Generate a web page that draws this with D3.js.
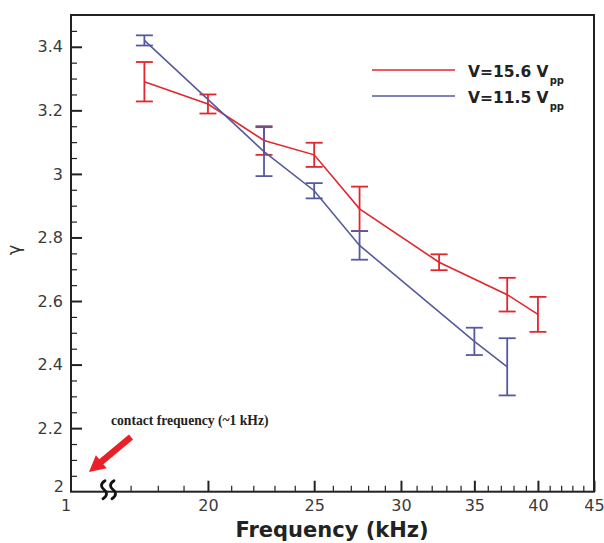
<!DOCTYPE html>
<html>
<head>
<meta charset="utf-8">
<script src="https://cdn.jsdelivr.net/npm/d3@7"></script>
<style>
  body { margin: 0; background: #fff; }
  svg { display: block; }
</style>
</head>
<body>
<svg id="chart" width="604" height="543"></svg>
<script>
// Nonlinearity exponent gamma vs. drive frequency, two drive amplitudes
const freqHigh = [17.5, 20, 22.5, 25, 27.5, 32.5, 37.5, 40];
const gammaHigh = [3.29, 3.22, 3.105, 3.06, 2.89, 2.722, 2.62, 2.558];
const errHigh = [0.062, 0.03, 0.045, 0.038, 0.07, 0.025, 0.053, 0.055];

const freqLow = [17.5, 22.5, 25, 27.5, 35, 37.5];
const gammaLow = [3.42, 3.07, 2.947, 2.775, 2.473, 2.393];
const errLow = [0.016, 0.077, 0.024, 0.045, 0.043, 0.09];

const seriesLabels = ["V=15.6 V", "V=11.5 V"];
const seriesSub = ["pp", "pp"];
const seriesColors = ["#e3262d", "#555a9f"];

const xTicks = [20, 25, 30, 35, 40, 45];
const xMinorTicks = [17, 18, 19, 21, 22, 23, 24, 26, 27, 28, 29, 31, 32, 33, 34, 36, 37, 38, 39, 41, 42, 43, 44];
const yTicks = [2.2, 2.4, 2.6, 2.8, 3.0, 3.2, 3.4];
const yMinorTicks = [2.05, 2.1, 2.15, 2.25, 2.3, 2.35, 2.45, 2.5, 2.55, 2.65, 2.7, 2.75,
                     2.85, 2.9, 2.95, 3.05, 3.1, 3.15, 3.25, 3.3, 3.35, 3.45];
const axisStartLabelX = "1";
const axisStartLabelY = "2";
const annotationText = "contact frequency (~1 kHz)";

const svg = d3.select("#chart");
const plotLeft = 71, plotRight = 594, plotTop = 15, plotBottom = 491.7;

const x = d3.scaleLog().domain([15, 45]).range([plotLeft, plotRight]);
const y = d3.scaleLinear().domain([2, 3.5]).range([plotBottom, plotTop]);

const tickFont = "'DejaVu Sans', sans-serif";
const ink = "#222";
const labelInk = "#3a3a3a";

// minor ticks
svg.append("g")
  .attr("transform", `translate(0,${plotBottom})`)
  .call(d3.axisBottom(x).tickValues(xMinorTicks).tickSize(-6).tickFormat(""))
  .call(g => g.select(".domain").remove())
  .call(g => g.selectAll("line").attr("stroke", ink).attr("stroke-width", 1.2));
svg.append("g")
  .attr("transform", `translate(${plotLeft},0)`)
  .call(d3.axisLeft(y).tickValues(yMinorTicks).tickSize(-6).tickFormat(""))
  .call(g => g.select(".domain").remove())
  .call(g => g.selectAll("line").attr("stroke", ink).attr("stroke-width", 1.2));

// major ticks and labels
svg.append("g")
  .attr("transform", `translate(0,${plotBottom})`)
  .call(d3.axisBottom(x).tickValues(xTicks).tickSize(-11).tickPadding(7.5).tickFormat(d3.format("d")))
  .call(g => g.select(".domain").remove())
  .call(g => g.selectAll("line").attr("stroke", ink).attr("stroke-width", 2))
  .call(g => g.selectAll("text").attr("fill", labelInk).style("font", `16px ${tickFont}`));
svg.append("g")
  .attr("transform", `translate(${plotLeft},0)`)
  .call(d3.axisLeft(y).tickValues(yTicks).tickSize(-11).tickPadding(8).tickFormat(d => d3.format("~g")(d)))
  .call(g => g.select(".domain").remove())
  .call(g => g.selectAll("line").attr("stroke", ink).attr("stroke-width", 2))
  .call(g => g.selectAll("text").attr("fill", labelInk).style("font", `16px ${tickFont}`));

// corner labels at the axis origin
svg.append("text").attr("x", plotLeft - 7).attr("y", plotBottom)
  .attr("text-anchor", "end").attr("fill", labelInk).style("font", `16px ${tickFont}`)
  .text(axisStartLabelY);
svg.append("text").attr("x", plotLeft - 5).attr("y", plotBottom + 19)
  .attr("text-anchor", "middle").attr("fill", labelInk).style("font", `16px ${tickFont}`)
  .text(axisStartLabelX);

// plot frame
svg.append("rect")
  .attr("x", plotLeft).attr("y", plotTop)
  .attr("width", plotRight - plotLeft).attr("height", plotBottom - plotTop)
  .attr("fill", "none").attr("stroke", ink).attr("stroke-width", 2);

// axis break squiggles (vertical tildes)
const breakG = svg.append("g").attr("fill", "none").attr("stroke", "#111")
  .attr("stroke-width", 2.8).attr("stroke-linecap", "round");
[104, 113].forEach(cx => {
  const b = plotBottom;
  breakG.append("path")
    .attr("d", `M${cx + 1},${b - 11} C${cx - 4},${b - 8} ${cx - 3},${b - 4} ${cx},${b - 2} ` +
               `C${cx + 3},${b} ${cx + 4},${b + 4} ${cx - 1},${b + 7}`);
});

// series
const series = [
  { f: freqHigh, g: gammaHigh, e: errHigh, color: seriesColors[0] },
  { f: freqLow, g: gammaLow, e: errLow, color: seriesColors[1] }
];
const line = d3.line().x(d => x(d.f)).y(d => y(d.g));
series.forEach(s => {
  const pts = s.f.map((f, i) => ({ f, g: s.g[i], e: s.e[i] }));
  svg.append("path").datum(pts)
    .attr("d", line).attr("fill", "none")
    .attr("stroke", s.color).attr("stroke-width", 1.6);
  const eg = svg.append("g").attr("stroke", s.color).attr("stroke-width", 1.8);
  pts.forEach(p => {
    const cx = x(p.f), hw = 8.5;
    eg.append("line").attr("x1", cx).attr("x2", cx).attr("y1", y(p.g + p.e)).attr("y2", y(p.g - p.e));
    eg.append("line").attr("x1", cx - hw).attr("x2", cx + hw).attr("y1", y(p.g + p.e)).attr("y2", y(p.g + p.e));
    eg.append("line").attr("x1", cx - hw).attr("x2", cx + hw).attr("y1", y(p.g - p.e)).attr("y2", y(p.g - p.e));
  });
});

// legend
const legend = svg.append("g");
seriesLabels.forEach((lab, i) => {
  const ly = 70 + i * 26;
  legend.append("line").attr("x1", 372).attr("x2", 455).attr("y1", ly).attr("y2", ly)
    .attr("stroke", seriesColors[i]).attr("stroke-width", 1.6);
  const t = legend.append("text").attr("x", 468).attr("y", ly + 6.5)
    .attr("fill", "#222").style("font", `bold 15.5px ${tickFont}`);
  t.append("tspan").text(lab);
  t.append("tspan").attr("dx", 1).attr("dy", 7).style("font-size", "10px").text(seriesSub[i]);
});

// axis titles
svg.append("text").attr("x", 332).attr("y", 537)
  .attr("text-anchor", "middle").attr("fill", "#222")
  .style("font", `bold 21px ${tickFont}`)
  .text("Frequency (kHz)");
svg.append("text")
  .attr("transform", "translate(20,250) rotate(-90)")
  .attr("text-anchor", "middle").attr("fill", "#333")
  .style("font", `18px ${tickFont}`)
  .text("γ");

// contact-frequency note and arrow
svg.append("text").attr("x", 111).attr("y", 424.5)
  .attr("fill", "#222").style("font", "bold 13.6px 'Liberation Serif', serif")
  .text(annotationText);
const tip = [89, 472], tail = [131, 437];
const ang = Math.atan2(tail[1] - tip[1], tail[0] - tip[0]);
const ux = Math.cos(ang), uy = Math.sin(ang), px = -uy, py = ux;
const headLen = 16, headW = 8.5, shaftW = 3.2;
const hb = [tip[0] + ux * headLen, tip[1] + uy * headLen];
const arrowPts = [
  tip,
  [hb[0] + px * headW, hb[1] + py * headW],
  [hb[0] + px * shaftW, hb[1] + py * shaftW],
  [tail[0] + px * shaftW, tail[1] + py * shaftW],
  [tail[0] - px * shaftW, tail[1] - py * shaftW],
  [hb[0] - px * shaftW, hb[1] - py * shaftW],
  [hb[0] - px * headW, hb[1] - py * headW]
];
svg.append("polygon").attr("points", arrowPts.map(p => p.join(",")).join(" "))
  .attr("fill", "#e8202a");
</script>
</body>
</html>
